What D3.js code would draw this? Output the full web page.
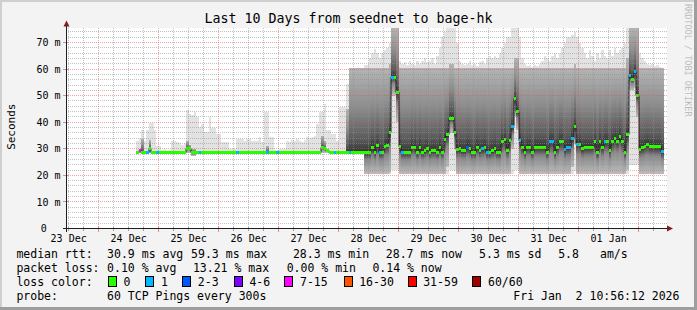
<!DOCTYPE html>
<html>
<head>
<meta charset="utf-8">
<script src="https://cdn.jsdelivr.net/npm/d3@7"></script>
<style>
html, body { margin: 0; padding: 0; background: #f3f3f3; }
svg { display: block; font-family: "DejaVu Sans Mono", monospace; }
</style>
</head>
<body>
<svg id="chart" width="697" height="310"></svg>
<script>
(function(){

// hourly buckets, first one starts 2025-12-24 15:00 UTC (earlier hours have no data)
var firstBucket = Date.UTC(2025, 11, 24, 15);

// median rtt per hour (ms)
var median = [
  28.6, 29.2, 28.6, 28.6, 28.6, 30.0, 28.6, 28.6, 28.6, 28.6,
  28.6, 28.6, 28.6, 28.6, 28.6, 28.6, 28.6, 28.6, 28.6, 28.6,
  30.0, 30.0, 28.6, 28.6, 28.6, 28.6, 28.6, 28.6, 28.6, 28.6,
  28.6, 28.6, 28.6, 28.6, 28.6, 28.6, 28.6, 28.6, 28.6, 28.6,
  28.6, 28.6, 28.6, 28.6, 28.6, 28.6, 28.6, 28.6, 28.6, 28.6,
  28.6, 28.6, 28.6, 28.6, 28.6, 28.6, 28.6, 28.6, 28.6, 28.6,
  28.6, 28.6, 28.6, 28.6, 28.6, 28.6, 28.6, 28.6, 28.6, 28.6,
  28.6, 28.6, 28.6, 28.6, 30.4, 30.0, 29.2, 28.6, 28.6, 28.6,
  28.6, 28.6, 28.6, 28.6, 28.6, 28.6, 28.6, 28.6, 28.6, 28.6,
  28.6, 28.6, 28.6, 28.6, 30.6, 28.6, 31.2, 28.6, 28.6, 31.0,
  31.4, 36.2, 57.0, 57.0, 51.0, 31.0, 28.6, 28.6, 28.6, 28.6,
  30.6, 30.6, 28.6, 30.6, 28.6, 29.3, 30.0, 28.6, 29.3, 29.3,
  28.6, 30.6, 28.6, 33.5, 35.2, 41.5, 41.5, 36.0, 29.8, 30.0,
  29.3, 29.3, 30.6, 30.0, 28.6, 28.6, 30.6, 29.3, 30.0, 30.6,
  28.6, 28.6, 29.3, 30.0, 28.6, 28.6, 32.6, 33.5, 29.4, 33.2,
  38.2, 49.0, 44.0, 33.2, 30.6, 28.5, 30.6, 30.6, 28.6, 30.6,
  30.6, 30.6, 30.6, 30.6, 28.6, 32.8, 32.8, 28.6, 30.6, 32.8,
  32.8, 29.6, 30.6, 30.6, 33.8, 38.2, 31.8, 31.8, 30.0, 30.6,
  30.6, 30.6, 30.6, 32.6, 28.6, 32.8, 30.6, 32.8, 32.8, 29.3,
  32.8, 33.8, 32.9, 34.8, 32.8, 28.6, 35.4, 57.5, 56.0, 59.1,
  50.1, 29.8, 30.3, 31.0, 31.5, 30.7, 30.7, 30.7, 30.7, 30.7, 28.8
];

// lost pings per hour (of 60)
var loss = [
  0, 10, 0, 0, 1, 0, 0, 0, 1, 0,
  0, 0, 0, 0, 0, 0, 0, 0, 0, 0,
  0, 0, 0, 0, 0, 1, 0, 0, 0, 0,
  0, 0, 0, 0, 0, 0, 0, 0, 0, 0,
  1, 0, 0, 0, 0, 0, 0, 0, 0, 0,
  0, 0, 1, 0, 0, 0, 1, 0, 0, 0,
  0, 0, 0, 0, 0, 0, 0, 0, 0, 0,
  0, 0, 0, 0, 0, 0, 0, 0, 0, 1,
  0, 0, 0, 0, 0, 1, 0, 0, 0, 0,
  0, 0, 0, 0, 0, 0, 0, 1, 0, 0,
  0, 0, 1, 0, 0, 0, 1, 0, 0, 0,
  0, 0, 0, 0, 0, 0, 0, 0, 0, 0,
  0, 0, 0, 0, 0, 0, 0, 0, 0, 0,
  0, 0, 2, 0, 0, 0, 0, 0, 1, 0,
  1, 0, 0, 0, 0, 0, 0, 0, 0, 0,
  1, 0, 0, 1, 0, 0, 0, 0, 0, 0,
  0, 0, 0, 0, 0, 1, 1, 0, 0, 0,
  0, 1, 1, 1, 1, 0, 1, 0, 0, 0,
  0, 0, 0, 0, 0, 0, 0, 1, 0, 0,
  0, 0, 0, 0, 0, 0, 0, 1, 0, 1,
  0, 0, 0, 0, 0, 0, 0, 0, 0, 0, 1
];

// smoke: lowest ping per hour (ms)
var smokeMin = [
  28.6, 28.6, 28.6, 28.6, 28.6, 28.6, 28.6, 28.6, 28.6, 28.6,
  28.6, 28.6, 28.6, 28.6, 28.6, 28.6, 28.6, 28.6, 28.6, 28.6,
  28.6, 28.6, 27.3, 27.3, 28.6, 28.6, 28.6, 28.6, 28.6, 28.6,
  28.6, 28.6, 28.6, 28.6, 28.6, 28.6, 28.6, 28.6, 28.6, 28.6,
  28.6, 28.6, 28.6, 28.6, 28.6, 28.6, 28.6, 28.6, 28.6, 28.6,
  28.6, 28.6, 28.6, 28.6, 28.6, 28.6, 28.6, 28.6, 28.6, 28.6,
  28.6, 28.6, 28.6, 28.6, 28.6, 28.6, 28.6, 28.6, 28.6, 28.6,
  28.6, 28.6, 28.6, 28.6, 28.6, 28.6, 28.6, 28.6, 28.6, 28.6,
  28.6, 28.6, 28.6, 28.6, 28.6, 28.6, 28.6, 28.6, 28.6, 28.6,
  28.6, 20.5, 20.5, 20.5, 20.5, 20.5, 20.5, 20.5, 20.5, 20.5,
  20.5, 20.5, 22.0, 22.0, 22.0, 20.5, 20.5, 20.5, 20.5, 20.5,
  20.5, 20.5, 20.5, 20.5, 20.5, 20.5, 20.5, 20.5, 20.5, 20.5,
  20.5, 20.5, 20.5, 20.5, 20.5, 22.0, 22.0, 21.5, 20.5, 20.5,
  20.5, 20.5, 20.5, 20.5, 20.5, 20.5, 20.5, 20.5, 20.5, 20.5,
  20.5, 20.5, 20.5, 20.5, 20.5, 20.5, 20.5, 20.5, 20.5, 20.5,
  20.5, 22.0, 22.0, 20.5, 20.5, 20.5, 20.5, 20.5, 20.5, 20.5,
  20.5, 20.5, 20.5, 20.5, 20.5, 20.5, 20.5, 20.5, 20.5, 20.5,
  20.5, 20.5, 20.5, 20.5, 20.5, 21.5, 20.5, 20.5, 20.5, 20.5,
  20.5, 20.5, 20.5, 20.5, 20.5, 20.5, 20.5, 20.5, 20.5, 20.5,
  20.5, 20.5, 20.5, 20.5, 20.5, 20.5, 20.5, 24.0, 24.0, 24.0,
  24.0, 20.5, 20.5, 20.5, 20.5, 20.5, 20.5, 20.5, 20.5, 20.5, 20.5
];

// smoke: lower edge of the dense ping band (ms)
var smokeLow = [
  28.6, 28.6, 28.6, 28.6, 28.6, 28.6, 28.6, 28.6, 28.6, 28.6,
  28.6, 28.6, 28.6, 28.6, 28.6, 28.6, 28.6, 28.6, 28.6, 28.6,
  28.6, 28.6, 27.3, 27.3, 28.6, 28.6, 28.6, 28.6, 28.6, 28.6,
  28.6, 28.6, 28.6, 28.6, 28.6, 28.6, 28.6, 28.6, 28.6, 28.6,
  28.6, 28.6, 28.6, 28.6, 28.6, 28.6, 28.6, 28.6, 28.6, 28.6,
  28.6, 28.6, 28.6, 28.6, 28.6, 28.6, 28.6, 28.6, 28.6, 28.6,
  28.6, 28.6, 28.6, 28.6, 28.6, 28.6, 28.6, 28.6, 28.6, 28.6,
  28.6, 28.6, 28.6, 28.6, 28.6, 28.6, 28.6, 28.6, 28.6, 28.6,
  28.6, 28.6, 28.6, 28.6, 28.6, 28.6, 28.6, 28.6, 28.6, 28.6,
  28.6, 20.5, 20.5, 20.5, 20.5, 20.5, 20.5, 20.5, 20.5, 20.5,
  20.5, 21.0, 50.0, 50.0, 40.0, 20.5, 20.5, 20.5, 20.5, 20.5,
  20.5, 20.5, 20.5, 20.5, 20.5, 20.5, 20.5, 20.5, 20.5, 20.5,
  20.5, 20.5, 20.5, 20.5, 23.0, 36.0, 36.0, 30.0, 20.5, 20.5,
  20.5, 20.5, 20.5, 20.5, 20.5, 20.5, 20.5, 20.5, 20.5, 20.5,
  20.5, 20.5, 20.5, 20.5, 20.5, 20.5, 20.5, 20.5, 20.5, 20.5,
  30.0, 42.0, 37.0, 20.5, 20.5, 20.5, 20.5, 20.5, 20.5, 20.5,
  20.5, 20.5, 20.5, 20.5, 20.5, 20.5, 20.5, 20.5, 20.5, 20.5,
  20.5, 20.5, 20.5, 20.5, 23.0, 32.0, 20.5, 20.5, 20.5, 20.5,
  20.5, 20.5, 20.5, 20.5, 20.5, 20.5, 20.5, 20.5, 20.5, 20.5,
  20.5, 20.5, 20.5, 20.5, 20.5, 20.5, 22.0, 52.0, 52.0, 53.0,
  42.0, 20.5, 20.5, 20.5, 20.5, 20.5, 20.5, 20.5, 20.5, 20.5, 20.5
];

// smoke: upper edge of the dense ping band (ms)
var smokeHigh = [
  28.6, 29.2, 33.8, 28.6, 28.6, 33.2, 28.6, 28.6, 28.6, 28.6,
  28.6, 28.6, 28.6, 28.6, 28.6, 28.6, 28.6, 28.6, 28.6, 28.6,
  33.0, 31.5, 30.0, 30.0, 28.6, 28.6, 28.6, 28.6, 28.6, 28.6,
  28.6, 28.6, 28.6, 28.6, 28.6, 28.6, 28.6, 28.6, 28.6, 28.6,
  28.6, 28.6, 28.6, 28.6, 28.6, 28.6, 28.6, 28.6, 28.6, 28.6,
  28.6, 28.6, 31.0, 28.6, 28.6, 28.6, 28.6, 28.6, 28.6, 28.6,
  28.6, 28.6, 28.6, 28.6, 28.6, 28.6, 28.6, 28.6, 28.6, 28.6,
  28.6, 28.6, 28.6, 28.6, 35.0, 33.0, 29.2, 28.6, 28.6, 28.6,
  28.6, 28.6, 28.6, 28.6, 45.0, 60.3, 60.3, 60.3, 60.3, 60.3,
  60.3, 60.3, 60.3, 60.3, 60.3, 60.3, 60.3, 60.3, 60.3, 60.3,
  60.3, 62.0, 75.4, 75.4, 75.4, 60.3, 60.3, 60.3, 60.3, 60.3,
  60.3, 60.3, 60.3, 60.3, 60.3, 60.3, 60.3, 60.3, 60.3, 60.3,
  60.3, 60.3, 60.3, 60.3, 60.3, 62.0, 62.0, 60.3, 60.3, 60.3,
  60.3, 60.3, 60.3, 60.3, 60.3, 60.3, 60.3, 60.3, 60.3, 60.3,
  60.3, 60.3, 60.3, 60.3, 60.3, 60.3, 60.3, 60.3, 60.3, 60.3,
  60.3, 64.0, 64.0, 60.3, 60.3, 60.3, 60.3, 60.3, 60.3, 60.3,
  60.3, 60.3, 60.3, 60.3, 60.3, 60.3, 60.3, 60.3, 60.3, 60.3,
  60.3, 60.3, 60.3, 60.3, 60.3, 62.0, 60.3, 60.3, 60.3, 60.3,
  60.3, 60.3, 60.3, 60.3, 60.3, 60.3, 60.3, 60.3, 60.3, 60.3,
  60.3, 60.3, 60.3, 60.3, 60.3, 60.3, 64.0, 75.4, 75.4, 75.4,
  75.4, 60.3, 60.3, 60.3, 60.3, 60.3, 60.3, 60.3, 60.3, 60.3, 60.3
];

// smoke: highest ping per hour (ms)
var smokeMax = [
  33.0, 34.0, 37.0, 33.0, 37.0, 39.7, 39.7, 37.0, 31.0, 31.0,
  29.5, 30.0, 29.3, 29.5, 33.0, 33.0, 32.5, 32.0, 31.5, 32.0,
  44.5, 43.0, 42.6, 43.8, 42.0, 38.2, 39.4, 36.3, 36.3, 42.0,
  38.0, 38.0, 35.7, 35.7, 32.6, 32.6, 32.6, 30.0, 30.0, 30.0,
  33.5, 33.5, 33.5, 33.0, 33.8, 33.8, 33.0, 33.0, 33.0, 34.4,
  32.6, 43.8, 43.8, 34.4, 34.4, 29.5, 29.5, 30.0, 30.0, 30.0,
  33.0, 32.6, 33.4, 33.0, 33.8, 33.0, 32.5, 33.4, 34.4, 34.0,
  34.4, 34.8, 39.4, 43.8, 43.8, 46.8, 37.0, 37.0, 35.7, 35.7,
  33.0, 45.6, 45.6, 45.6, 54.2, 60.5, 60.5, 60.5, 60.5, 60.5,
  60.5, 61.5, 61.5, 64.0, 66.0, 67.5, 66.0, 64.0, 66.0, 67.0,
  68.0, 70.0, 75.4, 75.4, 75.4, 63.0, 62.0, 62.5, 61.5, 63.0,
  62.0, 61.5, 63.0, 62.0, 63.0, 64.0, 62.5, 63.0, 64.0, 62.0,
  65.0, 68.0, 72.0, 74.0, 75.4, 75.4, 75.4, 75.4, 70.0, 63.0,
  62.0, 61.5, 62.0, 63.0, 61.5, 62.0, 61.0, 62.5, 63.0, 62.0,
  64.0, 65.0, 64.0, 65.0, 64.0, 66.0, 68.0, 70.0, 72.0, 72.0,
  75.4, 75.4, 75.4, 72.0, 64.0, 62.0, 61.0, 61.5, 60.8, 61.5,
  61.0, 62.0, 63.0, 65.0, 64.0, 63.0, 65.0, 66.0, 64.0, 66.0,
  68.0, 70.0, 72.0, 72.0, 73.0, 74.0, 72.0, 70.0, 68.0, 66.0,
  64.0, 67.0, 65.0, 63.0, 66.0, 64.0, 67.0, 65.0, 64.0, 67.0,
  65.0, 68.0, 66.0, 67.0, 68.0, 70.0, 75.4, 75.4, 75.4, 75.4,
  75.4, 66.0, 64.0, 63.0, 62.0, 61.5, 62.0, 61.0, 61.5, 60.8, 60.5
];

// loss colour classes
var lossLabels = ["0", "1", "2-3", "4-6", "7-15", "16-30", "31-59", "60/60"];
var lossUpper = [0, 1, 3, 6, 15, 30, 59, 60];
var lossColors = ["#26ff00", "#00b8ff", "#0059ff", "#7e00ff", "#ff00ff", "#ff5500", "#ff0000", "#a10000"];

// axis ticks
var yTicks = [0, 10, 20, 30, 40, 50, 60, 70];

// legend texts
var rttStats = ["30.9 ms avg", "59.3 ms max", "28.3 ms min", "28.7 ms now", "5.3 ms sd", "5.8", "am/s"];
var lossStats = ["0.10 % avg", "13.21 % max", "0.00 % min", "0.14 % now"];

var hour = 3600 * 1000;
var tStart = Date.UTC(2025, 11, 23, 10, 56, 12),
    tEnd = Date.UTC(2026, 0, 2, 10, 56, 12);

var plotLeft = 66, plotRight = 666, plotTop = 28.5, plotBottom = 228.5;

var svg = d3.select("#chart");

var x = d3.scaleUtc().domain([tStart, tEnd]).range([plotLeft, plotRight]);
var y = d3.scaleLinear().domain([0, 75.27]).range([plotBottom, plotTop]);

// background and border shades
svg.append("rect").attr("width", 697).attr("height", 310).attr("fill", "#f3f3f3");
svg.append("rect").attr("x", 0).attr("y", 0).attr("width", 697).attr("height", 2).attr("fill", "#cfcfcf");
svg.append("rect").attr("x", 0).attr("y", 0).attr("width", 2).attr("height", 310).attr("fill", "#cfcfcf");
svg.append("rect").attr("x", 694).attr("y", 0).attr("width", 3).attr("height", 310).attr("fill", "#9e9e9e");
svg.append("rect").attr("x", 0).attr("y", 307).attr("width", 697).attr("height", 3).attr("fill", "#9e9e9e");

// canvas
svg.append("rect")
    .attr("x", plotLeft).attr("y", 28)
    .attr("width", plotRight - plotLeft + 1).attr("height", 201)
    .attr("fill", "#ffffff");

// build bucket table
var buckets = median.map(function(m, i){
    var t = firstBucket + i * hour;
    var cls = 0;
    while (loss[i] > lossUpper[cls]) cls++;
    return {
        x0: Math.round(x(t)),
        x1: Math.round(x(t + hour)),
        med: m, cls: cls,
        min: smokeMin[i], low: smokeLow[i], high: smokeHigh[i], max: smokeMax[i]
    };
});

var defs = svg.append("defs");
defs.append("clipPath").attr("id", "plotClip")
  .append("rect")
    .attr("x", plotLeft).attr("y", 28)
    .attr("width", plotRight - plotLeft + 1).attr("height", 201);

var graph = svg.append("g").attr("clip-path", "url(#plotClip)");

// outer (sparse) smoke
graph.selectAll(".smokeOuter")
    .data(buckets)
    .enter()
    .append("rect")
    .attr("class", "smokeOuter")
    .attr("x", function(d){ return d.x0; })
    .attr("width", function(d){ return d.x1 - d.x0; })
    .attr("y", function(d){ return Math.round(y(d.max)); })
    .attr("height", function(d){ return Math.max(0, Math.round(y(d.min)) - Math.round(y(d.max))); })
    .attr("fill", "#e2e2e2")
    .attr("shape-rendering", "crispEdges");

// inner (dense) smoke, darkest at the median
var dense = buckets.filter(function(d){ return d.high - d.low > 0.3; });

dense.forEach(function(d, i){
    var y1 = y(d.high), y2 = y(d.low);
    var f = Math.max(0, Math.min(1, (y(d.med) - y1) / (y2 - y1)));
    var g = defs.append("linearGradient")
        .attr("id", "dense" + i)
        .attr("gradientUnits", "userSpaceOnUse")
        .attr("x1", 0).attr("x2", 0)
        .attr("y1", y1).attr("y2", y2);
    [[0, "#b4b4b4"], [f * 0.45, "#8e8e8e"], [f * 0.85, "#5a5a5a"], [f, "#333333"],
     [f + (1 - f) * 0.35, "#8a8a8a"], [1, "#bcbcbc"]]
        .forEach(function(s){
            g.append("stop").attr("offset", s[0]).attr("stop-color", s[1]);
        });
    d.grad = "url(#dense" + i + ")";
});

graph.selectAll(".smokeDense")
    .data(dense)
    .enter()
    .append("rect")
    .attr("class", "smokeDense")
    .attr("x", function(d){ return d.x0; })
    .attr("width", function(d){ return d.x1 - d.x0; })
    .attr("y", function(d){ return Math.round(y(d.high)); })
    .attr("height", function(d){ return Math.round(y(d.low)) - Math.round(y(d.high)); })
    .attr("fill", function(d){ return d.grad; })
    .attr("shape-rendering", "crispEdges");

// grid
var grid = svg.append("g").attr("shape-rendering", "crispEdges");
var minorY = d3.range(2, 75, 2).filter(function(v){ return v % 10 != 0; });
var minorColor = "rgba(143,143,143,0.55)",
    majorColor = "rgba(222,79,79,0.5)";

grid.selectAll(".hMinor")
    .data(minorY)
    .enter()
    .append("line")
    .attr("x1", plotLeft).attr("x2", plotRight + 1)
    .attr("y1", function(d){ return Math.floor(y(d)) + 0.5; })
    .attr("y2", function(d){ return Math.floor(y(d)) + 0.5; })
    .attr("stroke", minorColor)
    .attr("stroke-dasharray", "1,1");

var sixHours = d3.utcHour.every(6).range(new Date(tStart), new Date(tEnd))
    .filter(function(t){ return t.getUTCHours() != 0; });
var midnights = d3.utcDay.range(new Date(tStart), new Date(tEnd));

grid.selectAll(".vMinor")
    .data(sixHours)
    .enter()
    .append("line")
    .attr("x1", function(d){ return Math.floor(x(d)) + 0.5; })
    .attr("x2", function(d){ return Math.floor(x(d)) + 0.5; })
    .attr("y1", 28).attr("y2", plotBottom)
    .attr("stroke", minorColor)
    .attr("stroke-dasharray", "1,1");

grid.selectAll(".hMajor")
    .data(yTicks.slice(1))
    .enter()
    .append("line")
    .attr("x1", plotLeft).attr("x2", plotRight + 1)
    .attr("y1", function(d){ return Math.floor(y(d)) + 0.5; })
    .attr("y2", function(d){ return Math.floor(y(d)) + 0.5; })
    .attr("stroke", majorColor)
    .attr("stroke-dasharray", "1,1");

grid.selectAll(".vMajor")
    .data(midnights)
    .enter()
    .append("line")
    .attr("x1", function(d){ return Math.floor(x(d)) + 0.5; })
    .attr("x2", function(d){ return Math.floor(x(d)) + 0.5; })
    .attr("y1", 28).attr("y2", plotBottom)
    .attr("stroke", majorColor)
    .attr("stroke-dasharray", "1,1");

// median line, step shaped
var pts = [];
buckets.forEach(function(d){
    var ym = Math.floor(y(d.med)) + 0.5;
    pts.push([d.x0, ym], [d.x1, ym]);
});
graph.append("path")
    .attr("d", d3.line()(pts))
    .attr("fill", "none")
    .attr("stroke", "#202020")
    .attr("stroke-width", 1);

// loss coloured median bars
graph.selectAll(".medBar")
    .data(buckets)
    .enter()
    .append("rect")
    .attr("class", "medBar")
    .attr("x", function(d){ return d.x0; })
    .attr("width", function(d){ return d.x1 - d.x0; })
    .attr("y", function(d){ return Math.floor(y(d.med)) - 1; })
    .attr("height", 3)
    .attr("fill", function(d){ return lossColors[d.cls]; })
    .attr("shape-rendering", "crispEdges");

// axes
var axis = svg.append("g").attr("shape-rendering", "crispEdges");
axis.selectAll(".xTickMinor")
    .data(sixHours)
    .enter()
    .append("line")
    .attr("x1", function(d){ return Math.floor(x(d)) + 0.5; })
    .attr("x2", function(d){ return Math.floor(x(d)) + 0.5; })
    .attr("y1", 227).attr("y2", 231)
    .attr("stroke", "#a0a0a0");
axis.selectAll(".xTickMajor")
    .data(midnights)
    .enter()
    .append("line")
    .attr("x1", function(d){ return Math.floor(x(d)) + 0.5; })
    .attr("x2", function(d){ return Math.floor(x(d)) + 0.5; })
    .attr("y1", 226).attr("y2", 232)
    .attr("stroke", "#e98888");
axis.selectAll(".yTick")
    .data(yTicks.slice(1))
    .enter()
    .append("line")
    .attr("x1", 63).attr("x2", 69)
    .attr("y1", function(d){ return Math.floor(y(d)) + 0.5; })
    .attr("y2", function(d){ return Math.floor(y(d)) + 0.5; })
    .attr("stroke", "#e98888");

axis.append("line")
    .attr("x1", 63).attr("x2", 670)
    .attr("y1", plotBottom).attr("y2", plotBottom)
    .attr("stroke", "#1f1f1f");
axis.append("line")
    .attr("x1", plotLeft + 0.5).attr("x2", plotLeft + 0.5)
    .attr("y1", 232).attr("y2", 25)
    .attr("stroke", "#1f1f1f");
svg.append("path")
    .attr("d", "M667,225.5L673,228.5L667,231.5Z")
    .attr("fill", "#801f1f");
svg.append("path")
    .attr("d", "M63.5,26.5L66.5,20.5L69.5,26.5Z")
    .attr("fill", "#801f1f");

// tick labels
svg.selectAll(".yLabel")
    .data(yTicks)
    .enter()
    .append("text")
    .attr("x", function(d){ return d == 0 ? 46.8 : 60.5; })
    .attr("y", function(d){ return y(d) + 3.6; })
    .attr("text-anchor", "end")
    .attr("font-size", "10px")
    .text(function(d){ return d == 0 ? "0" : d + " m"; });

// day labels sit at noon
var noons = midnights.map(function(t){ return new Date(+t - 12 * hour); });
svg.selectAll(".xLabel")
    .data(noons)
    .enter()
    .append("text")
    .attr("x", function(d){ return x(d); })
    .attr("y", 241.5)
    .attr("text-anchor", "middle")
    .attr("font-size", "10px")
    .text(d3.utcFormat("%d %b"));

// title, vertical label, watermark
svg.append("text")
    .attr("x", 348.5).attr("y", 23)
    .attr("text-anchor", "middle")
    .attr("font-size", "13.3px")
    .text("Last 10 Days from seednet to bage-hk");

svg.append("text")
    .attr("transform", "translate(15,126.7) rotate(-90)")
    .attr("text-anchor", "middle")
    .attr("font-size", "11px")
    .text("Seconds");

svg.append("text")
    .attr("transform", "translate(685.3,4) rotate(90)")
    .attr("font-size", "8.5px")
    .attr("fill", "#bdbdbd")
    .text("RRDTOOL / TOBI OETIKER");

// legend
var legend = svg.append("g")
    .attr("font-size", "11.5px");

function legendText(xPos, yPos, str){
    legend.append("text")
        .attr("x", xPos).attr("y", yPos)
        .attr("xml:space", "preserve")
        .style("white-space", "pre")
        .text(str);
}

legendText(16.4, 258.3, "median rtt:");
[107.1, 191.1, 292.9, 385.8, 479.1, 558.2, 600].forEach(function(xp, i){
    legendText(xp, 258.3, rttStats[i]);
});

legendText(16.4, 272.3, "packet loss:");
[107.1, 192.9, 286.7, 372.4].forEach(function(xp, i){
    legendText(xp, 272.3, lossStats[i]);
});

legendText(16.4, 286.3, "loss color:");
var boxX = [108, 145.3, 182.2, 233.8, 284.4, 343.6, 407.6, 472.4];
legend.selectAll(".lossBox")
    .data(lossLabels)
    .enter()
    .append("rect")
    .attr("x", function(d, i){ return Math.round(boxX[i]) + 0.5; })
    .attr("y", 276.5)
    .attr("width", 8).attr("height", 10)
    .attr("fill", function(d, i){ return lossColors[i]; })
    .attr("stroke", "#000")
    .attr("stroke-width", 1);
legend.selectAll(".lossLabel")
    .data(lossLabels)
    .enter()
    .append("text")
    .attr("x", function(d, i){ return boxX[i] + 15.6; })
    .attr("y", 286.3)
    .text(function(d){ return d; });

legendText(16.4, 300.3, "probe:");
legendText(107.1, 300.3, "60 TCP Pings every 300s");
legendText(513.3, 300.3, "Fri Jan  2 10:56:12 2026");

})();
</script>
</body>
</html>
